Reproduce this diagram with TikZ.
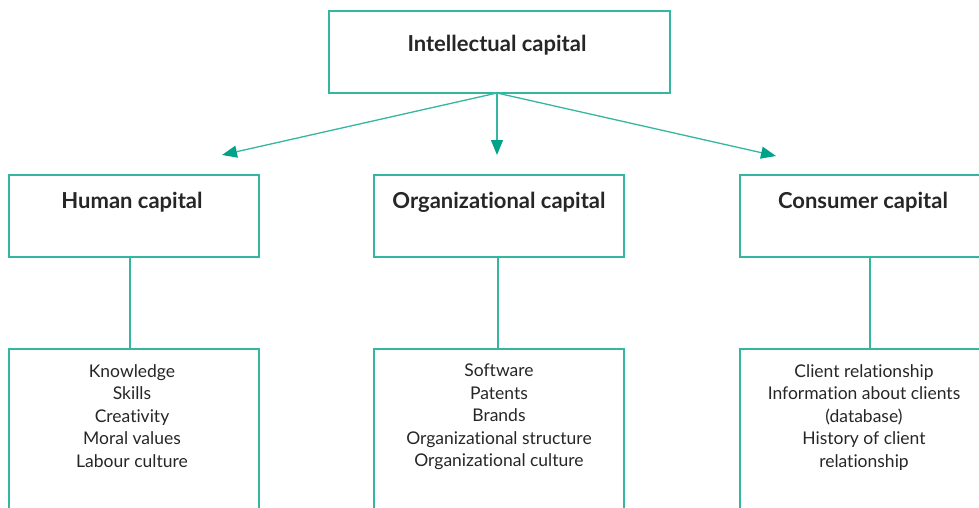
\documentclass[tikz,border=0pt]{standalone}
\usepackage{fontspec}
\setmainfont{Lato}[Ligatures=NoCommon]
\usetikzlibrary{arrows.meta}
\definecolor{teal1}{RGB}{52,182,160}
\definecolor{tealtip}{RGB}{0,163,138}
\tikzset{
  box/.style={draw=teal1, line width=1.3pt, rectangle, inner sep=0pt},
  head/.style={font=\fontsize{22}{26}\selectfont\bfseries, text=black!85, anchor=base, inner sep=0pt},
  items/.style={font=\fontsize{17.5}{22.5}\selectfont, text=black!85, align=center, anchor=north, inner sep=0pt},
  link/.style={draw=teal1, line width=1.3pt},
  arr/.style={link, -{Triangle[length=15pt,width=12pt,color=tealtip]}}
}
\begin{document}
\begin{tikzpicture}[x=1pt,y=-1pt]
\useasboundingbox (0,0) rectangle (979,508);
\clip (0,0) rectangle (979,508);
% top level
\node[box, minimum width=341pt, minimum height=82pt] (ic) at (499.5,52) {};
\node[head] (ict) at (497,52) {Intellectual capital};
% second level
\node[box, minimum width=250pt, minimum height=82pt] (hc) at (134,216) {};
\node[box, minimum width=250pt, minimum height=82pt] (oc) at (499,216) {};
\node[box, minimum width=250pt, minimum height=82pt] (cc) at (865,216) {};
\node[head] (hct) at (132,208) {Human capital};
\node[head] (oct) at (499,208) {Organizational capital};
\node[head] (cct) at (863,208) {Consumer capital};
% third level (open at the bottom)
\node[box, minimum width=250pt, minimum height=200pt] (hb) at (134,449) {};
\node[box, minimum width=250pt, minimum height=200pt] (ob) at (499,449) {};
\node[box, minimum width=250pt, minimum height=200pt] (cb) at (865,449) {};
\node[items] (hbt) at (132,364) {Knowledge\\Skills\\Creativity\\Moral values\\Labour culture};
\node[items] (obt) at (499,364) {Software\\Patents\\Brands\\Organizational structure\\Organizational culture};
\node[items] (cbt) at (864,364) {Client relationship\\Information about clients\\(database)\\History of client\\relationship};
% arrows from the top box
\coordinate (src) at (497,93);
\coordinate (el) at (222,155);
\coordinate (em) at (497,155);
\coordinate (er) at (776,156);
\draw[arr] (src) -- (el);
\draw[arr] (src) -- (em);
\draw[arr] (src) -- (er);
% vertical links
\draw[link] (hc.south -| 130,0) -- (hb.north -| 130,0);
\draw[link] (oc.south -| 498,0) -- (ob.north -| 498,0);
\draw[link] (cc.south -| 870,0) -- (cb.north -| 870,0);
\end{tikzpicture}
\end{document}
